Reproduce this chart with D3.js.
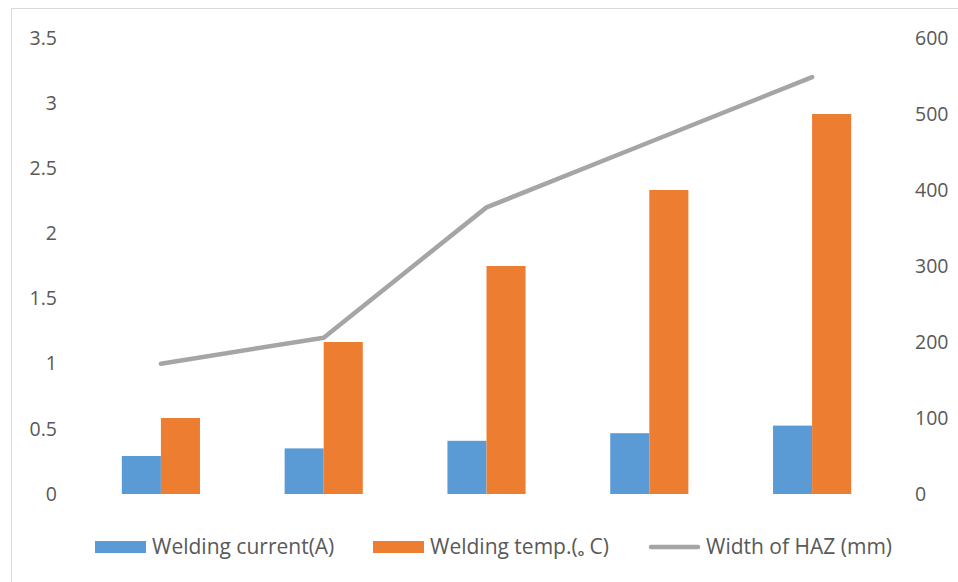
<!DOCTYPE html>
<html><head><meta charset="utf-8">
<script src="https://cdn.jsdelivr.net/npm/d3@7"></script>
<style>html,body{margin:0;padding:0;background:#fff;}svg{display:block;}</style>
</head><body>
<svg id="c" width="958" height="582"></svg>
<script>
const categories = ["1", "2", "3", "4", "5"];
const weldingCurrent = [50, 60, 70, 80, 90];
const weldingTemp = [100, 200, 300, 400, 500];
const hazWidth = [1.0, 1.2, 2.2, 2.7, 3.2];
const leftTicks = [0, 0.5, 1, 1.5, 2, 2.5, 3, 3.5];
const rightTicks = [0, 100, 200, 300, 400, 500, 600];
const seriesNames = ["Welding current(A)", "Welding temp.(\u2092 C)", "Width of HAZ (mm)"];
const colors = ["#5b9bd5", "#ed7d31", "#a5a5a5"];

const svg = d3.select("#c");
const font = "'Open Sans', Lato, sans-serif";
svg.append("rect").attr("x", 11.5).attr("y", 8.5).attr("width", 960).attr("height", 600)
  .attr("fill", "#fff").attr("stroke", "#d9d9d9").attr("stroke-width", 1);

const x = d3.scaleBand().domain(categories).range([79.5, 893.5]).paddingInner(0.52).paddingOuter(0.26);
const yL = d3.scaleLinear().domain([0, 3.5]).range([494, 38]);
const yR = d3.scaleLinear().domain([0, 600]).range([494, 38]);
const bw = x.bandwidth() / 2;

const leftAxis = d3.axisLeft(yL).tickValues(leftTicks).tickSize(0).tickPadding(0).tickFormat(d3.format("~g"));
const gl = svg.append("g").attr("transform", "translate(57,0)").call(leftAxis);
const rightAxis = d3.axisRight(yR).tickValues(rightTicks).tickSize(0).tickPadding(0);
const gr = svg.append("g").attr("transform", "translate(915,0)").call(rightAxis);
[gl, gr].forEach(g => {
  g.select(".domain").remove();
  g.selectAll("text").attr("font-family", font).attr("font-size", 19.5).attr("fill", "#595959");
});

svg.append("g").selectAll("rect").data(categories).join("rect")
  .attr("x", d => x(d)).attr("y", (d, i) => yR(weldingCurrent[i]))
  .attr("width", bw).attr("height", (d, i) => yR(0) - yR(weldingCurrent[i]))
  .attr("fill", colors[0]);
svg.append("g").selectAll("rect").data(categories).join("rect")
  .attr("x", d => x(d) + bw).attr("y", (d, i) => yR(weldingTemp[i]))
  .attr("width", bw).attr("height", (d, i) => yR(0) - yR(weldingTemp[i]))
  .attr("fill", colors[1]);

const line = d3.line().x((d, i) => x(categories[i]) + x.bandwidth() / 2).y(d => yL(d));
svg.append("path").datum(hazWidth).attr("d", line).attr("fill", "none")
  .attr("stroke", colors[2]).attr("stroke-width", 4.5).attr("stroke-linecap", "round").attr("stroke-linejoin", "round");

// legend
const lg = svg.append("g");
const items = [{x: 95, type: "rect"}, {x: 373, type: "rect"}, {x: 649, type: "line"}];
items.forEach((it, i) => {
  if (it.type === "rect") {
    lg.append("rect").attr("x", it.x).attr("y", 541).attr("width", 51).attr("height", 12).attr("fill", colors[i]);
  } else {
    lg.append("line").attr("x1", it.x + 2).attr("x2", it.x + 49).attr("y1", 547).attr("y2", 547)
      .attr("stroke", colors[2]).attr("stroke-width", 4.5).attr("stroke-linecap", "round");
  }
  lg.append("text").attr("x", it.x + 57).attr("y", 547).attr("dy", "0.35em")
    .attr("font-family", font).attr("font-size", 21).attr("fill", "#595959").text(seriesNames[i]);
});
</script>
</body></html>
